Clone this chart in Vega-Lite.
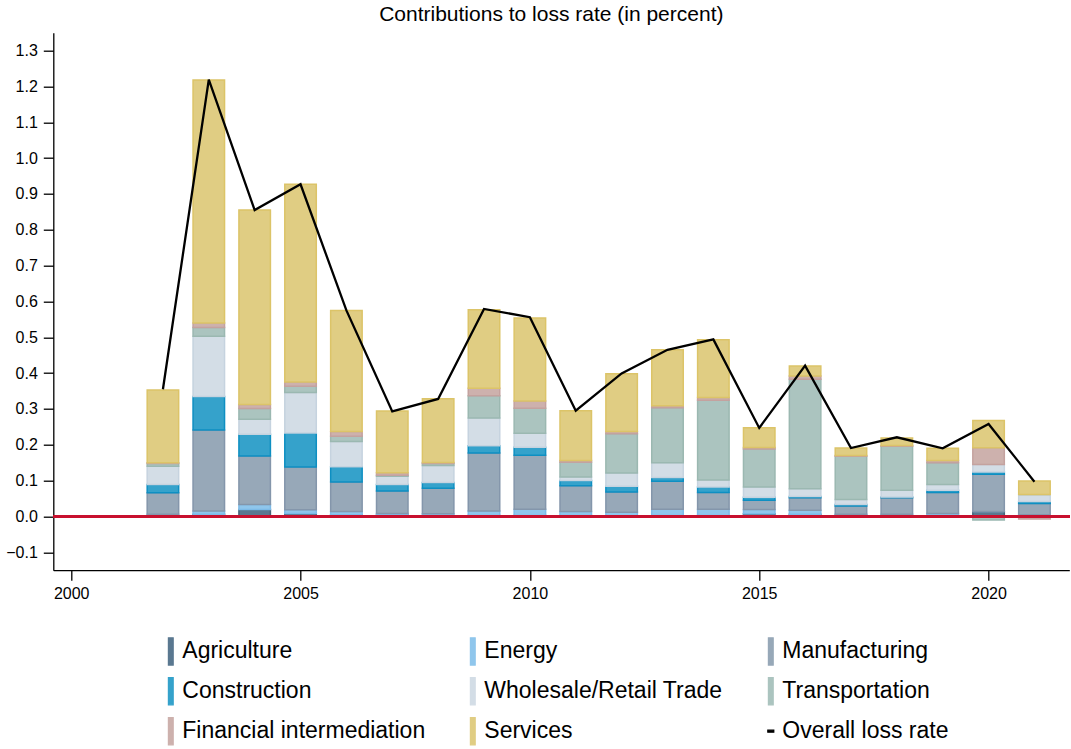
{
  "$schema": "https://vega.github.io/schema/vega-lite/v6.json",
  "autosize": {"type": "none"},
  "padding": {"left": 53.3, "top": 32.7, "right": 1.7, "bottom": 178.8},
  "width": 1016,
  "height": 537.5,
  "background": "white",
  "title": {"text": "Contributions to loss rate (in percent)", "fontSize": 21, "font": "Liberation Sans", "fontWeight": "normal", "anchor": "middle", "dx": -10, "offset": 8, "color": "black"},
  "config": {
    "view": {"stroke": null},
    "axis": {"domainColor": "black", "tickColor": "black", "labelColor": "black", "labelFont": "Liberation Sans", "labelFontSize": 16, "grid": false, "tickSize": 10, "domainWidth": 1.3, "tickWidth": 1.3, "title": null},
    "legend": {"labelFont": "Liberation Sans", "labelFontSize": 23, "labelColor": "black"}
  },
  "data": {"values": [
    {"year":2002,"sector":"Agriculture","value":0.002},{"year":2002,"sector":"Energy","value":0.004},{"year":2002,"sector":"Manufacturing","value":0.060},{"year":2002,"sector":"Construction","value":0.023},{"year":2002,"sector":"Wholesale/Retail Trade","value":0.051},{"year":2002,"sector":"Transportation","value":0.008},{"year":2002,"sector":"Financial intermediation","value":0.002},{"year":2002,"sector":"Services","value":0.203},
    {"year":2003,"sector":"Agriculture","value":0.006},{"year":2003,"sector":"Energy","value":0.009},{"year":2003,"sector":"Manufacturing","value":0.226},{"year":2003,"sector":"Construction","value":0.094},{"year":2003,"sector":"Wholesale/Retail Trade","value":0.168},{"year":2003,"sector":"Transportation","value":0.024},{"year":2003,"sector":"Financial intermediation","value":0.013},{"year":2003,"sector":"Services","value":0.678},
    {"year":2004,"sector":"Agriculture","value":0.0195},{"year":2004,"sector":"Energy","value":0.014},{"year":2004,"sector":"Manufacturing","value":0.135},{"year":2004,"sector":"Construction","value":0.061},{"year":2004,"sector":"Wholesale/Retail Trade","value":0.042},{"year":2004,"sector":"Transportation","value":0.030},{"year":2004,"sector":"Financial intermediation","value":0.011},{"year":2004,"sector":"Services","value":0.543},
    {"year":2005,"sector":"Agriculture","value":0.008},{"year":2005,"sector":"Energy","value":0.011},{"year":2005,"sector":"Manufacturing","value":0.119},{"year":2005,"sector":"Construction","value":0.095},{"year":2005,"sector":"Wholesale/Retail Trade","value":0.113},{"year":2005,"sector":"Transportation","value":0.017},{"year":2005,"sector":"Financial intermediation","value":0.012},{"year":2005,"sector":"Services","value":0.552},
    {"year":2006,"sector":"Agriculture","value":0.005},{"year":2006,"sector":"Energy","value":0.009},{"year":2006,"sector":"Manufacturing","value":0.082},{"year":2006,"sector":"Construction","value":0.043},{"year":2006,"sector":"Wholesale/Retail Trade","value":0.070},{"year":2006,"sector":"Transportation","value":0.015},{"year":2006,"sector":"Financial intermediation","value":0.013},{"year":2006,"sector":"Services","value":0.338},
    {"year":2007,"sector":"Agriculture","value":0.004},{"year":2007,"sector":"Energy","value":0.004},{"year":2007,"sector":"Manufacturing","value":0.063},{"year":2007,"sector":"Construction","value":0.018},{"year":2007,"sector":"Wholesale/Retail Trade","value":0.023},{"year":2007,"sector":"Transportation","value":0.003},{"year":2007,"sector":"Financial intermediation","value":0.007},{"year":2007,"sector":"Services","value":0.172},
    {"year":2008,"sector":"Agriculture","value":0.0},{"year":2008,"sector":"Energy","value":0.0075},{"year":2008,"sector":"Manufacturing","value":0.071},{"year":2008,"sector":"Construction","value":0.016},{"year":2008,"sector":"Wholesale/Retail Trade","value":0.048},{"year":2008,"sector":"Transportation","value":0.005},{"year":2008,"sector":"Financial intermediation","value":0.003},{"year":2008,"sector":"Services","value":0.178},
    {"year":2009,"sector":"Agriculture","value":0.003},{"year":2009,"sector":"Energy","value":0.012},{"year":2009,"sector":"Manufacturing","value":0.162},{"year":2009,"sector":"Construction","value":0.020},{"year":2009,"sector":"Wholesale/Retail Trade","value":0.078},{"year":2009,"sector":"Transportation","value":0.062},{"year":2009,"sector":"Financial intermediation","value":0.021},{"year":2009,"sector":"Services","value":0.219},
    {"year":2010,"sector":"Agriculture","value":0.003},{"year":2010,"sector":"Energy","value":0.017},{"year":2010,"sector":"Manufacturing","value":0.151},{"year":2010,"sector":"Construction","value":0.022},{"year":2010,"sector":"Wholesale/Retail Trade","value":0.039},{"year":2010,"sector":"Transportation","value":0.070},{"year":2010,"sector":"Financial intermediation","value":0.020},{"year":2010,"sector":"Services","value":0.232},
    {"year":2011,"sector":"Agriculture","value":0.003},{"year":2011,"sector":"Energy","value":0.011},{"year":2011,"sector":"Manufacturing","value":0.072},{"year":2011,"sector":"Construction","value":0.014},{"year":2011,"sector":"Wholesale/Retail Trade","value":0.010},{"year":2011,"sector":"Transportation","value":0.041},{"year":2011,"sector":"Financial intermediation","value":0.005},{"year":2011,"sector":"Services","value":0.139},
    {"year":2012,"sector":"Agriculture","value":0.0},{"year":2012,"sector":"Energy","value":0.012},{"year":2012,"sector":"Manufacturing","value":0.056},{"year":2012,"sector":"Construction","value":0.016},{"year":2012,"sector":"Wholesale/Retail Trade","value":0.037},{"year":2012,"sector":"Transportation","value":0.110},{"year":2012,"sector":"Financial intermediation","value":0.006},{"year":2012,"sector":"Services","value":0.161},
    {"year":2013,"sector":"Agriculture","value":0.003},{"year":2013,"sector":"Energy","value":0.017},{"year":2013,"sector":"Manufacturing","value":0.078},{"year":2013,"sector":"Construction","value":0.011},{"year":2013,"sector":"Wholesale/Retail Trade","value":0.041},{"year":2013,"sector":"Transportation","value":0.153},{"year":2013,"sector":"Financial intermediation","value":0.006},{"year":2013,"sector":"Services","value":0.156},
    {"year":2014,"sector":"Agriculture","value":0.003},{"year":2014,"sector":"Energy","value":0.017},{"year":2014,"sector":"Manufacturing","value":0.047},{"year":2014,"sector":"Construction","value":0.015},{"year":2014,"sector":"Wholesale/Retail Trade","value":0.020},{"year":2014,"sector":"Transportation","value":0.222},{"year":2014,"sector":"Financial intermediation","value":0.008},{"year":2014,"sector":"Services","value":0.161},
    {"year":2015,"sector":"Agriculture","value":0.0075},{"year":2015,"sector":"Energy","value":0.012},{"year":2015,"sector":"Manufacturing","value":0.026},{"year":2015,"sector":"Construction","value":0.008},{"year":2015,"sector":"Wholesale/Retail Trade","value":0.029},{"year":2015,"sector":"Transportation","value":0.106},{"year":2015,"sector":"Financial intermediation","value":0.004},{"year":2015,"sector":"Services","value":0.055},
    {"year":2016,"sector":"Agriculture","value":0.006},{"year":2016,"sector":"Energy","value":0.011},{"year":2016,"sector":"Manufacturing","value":0.035},{"year":2016,"sector":"Construction","value":0.004},{"year":2016,"sector":"Wholesale/Retail Trade","value":0.021},{"year":2016,"sector":"Transportation","value":0.306},{"year":2016,"sector":"Financial intermediation","value":0.009},{"year":2016,"sector":"Services","value":0.028},
    {"year":2017,"sector":"Agriculture","value":0.003},{"year":2017,"sector":"Energy","value":0.003},{"year":2017,"sector":"Manufacturing","value":0.023},{"year":2017,"sector":"Construction","value":0.004},{"year":2017,"sector":"Wholesale/Retail Trade","value":0.014},{"year":2017,"sector":"Transportation","value":0.121},{"year":2017,"sector":"Financial intermediation","value":0.002},{"year":2017,"sector":"Services","value":0.021},
    {"year":2018,"sector":"Agriculture","value":0.0},{"year":2018,"sector":"Energy","value":0.006},{"year":2018,"sector":"Manufacturing","value":0.046},{"year":2018,"sector":"Construction","value":0.002},{"year":2018,"sector":"Wholesale/Retail Trade","value":0.019},{"year":2018,"sector":"Transportation","value":0.123},{"year":2018,"sector":"Financial intermediation","value":0.002},{"year":2018,"sector":"Services","value":0.021},
    {"year":2019,"sector":"Agriculture","value":0.003},{"year":2019,"sector":"Energy","value":0.005},{"year":2019,"sector":"Manufacturing","value":0.059},{"year":2019,"sector":"Construction","value":0.006},{"year":2019,"sector":"Wholesale/Retail Trade","value":0.016},{"year":2019,"sector":"Transportation","value":0.061},{"year":2019,"sector":"Financial intermediation","value":0.006},{"year":2019,"sector":"Services","value":0.034},
    {"year":2020,"sector":"Agriculture","value":0.014},{"year":2020,"sector":"Energy","value":0.0},{"year":2020,"sector":"Manufacturing","value":0.104},{"year":2020,"sector":"Construction","value":0.006},{"year":2020,"sector":"Wholesale/Retail Trade","value":0.021},{"year":2020,"sector":"Transportation","value":-0.010},{"year":2020,"sector":"Financial intermediation","value":0.047},{"year":2020,"sector":"Services","value":0.076},
    {"year":2021,"sector":"Agriculture","value":0.0},{"year":2021,"sector":"Energy","value":0.005},{"year":2021,"sector":"Manufacturing","value":0.031},{"year":2021,"sector":"Construction","value":0.006},{"year":2021,"sector":"Wholesale/Retail Trade","value":0.019},{"year":2021,"sector":"Transportation","value":0.0},{"year":2021,"sector":"Financial intermediation","value":-0.007},{"year":2021,"sector":"Services","value":0.038},
    {"year":2002,"sector":"Overall loss rate","value":0.355},{"year":2003,"sector":"Overall loss rate","value":1.219},{"year":2004,"sector":"Overall loss rate","value":0.855},{"year":2005,"sector":"Overall loss rate","value":0.927},{"year":2006,"sector":"Overall loss rate","value":0.575},{"year":2007,"sector":"Overall loss rate","value":0.293},{"year":2008,"sector":"Overall loss rate","value":0.328},{"year":2009,"sector":"Overall loss rate","value":0.579},{"year":2010,"sector":"Overall loss rate","value":0.556},{"year":2011,"sector":"Overall loss rate","value":0.295},{"year":2012,"sector":"Overall loss rate","value":0.399},{"year":2013,"sector":"Overall loss rate","value":0.465},{"year":2014,"sector":"Overall loss rate","value":0.494},{"year":2015,"sector":"Overall loss rate","value":0.247},{"year":2016,"sector":"Overall loss rate","value":0.421},{"year":2017,"sector":"Overall loss rate","value":0.191},{"year":2018,"sector":"Overall loss rate","value":0.221},{"year":2019,"sector":"Overall loss rate","value":0.190},{"year":2020,"sector":"Overall loss rate","value":0.258},{"year":2021,"sector":"Overall loss rate","value":0.097}
  ]},
  "encoding": {
    "x": {"field": "year", "type": "quantitative", "scale": {"domain": [1999.61, 2021.76], "nice": false, "zero": false, "padding": 0}, "axis": {"values": [2000, 2005, 2010, 2015, 2020], "format": "d", "labelPadding": 5}},
    "y": {"field": "value", "type": "quantitative", "scale": {"domain": [-0.15, 1.35], "nice": false, "zero": false}, "axis": {"values": [-0.1, 0, 0.1, 0.2, 0.3, 0.4, 0.5, 0.6, 0.7, 0.8, 0.9, 1.0, 1.1, 1.2, 1.3], "format": ".1f", "labelPadding": 6}}
  },
  "layer": [
    {
      "transform": [
        {"filter": "datum.sector !== 'Overall loss rate'"},
        {"calculate": "indexof(['Agriculture','Energy','Manufacturing','Construction','Wholesale/Retail Trade','Transportation','Financial intermediation','Services'], datum.sector)", "as": "stackorder"}
      ],
      "mark": {"type": "bar", "size": 31.5, "strokeWidth": 1.5},
      "encoding": {
        "y": {"field": "value", "type": "quantitative", "stack": "zero"},
        "order": {"field": "stackorder", "type": "quantitative"},
        "color": {"field": "sector", "type": "nominal",
          "scale": {"domain": ["Agriculture","Energy","Manufacturing","Construction","Wholesale/Retail Trade","Transportation","Financial intermediation","Services","Overall loss rate"],
                    "range": ["#5a7890","#8fc6ec","#97a8b8","#35a2cb","#d3dde6","#abc4bf","#cdb1ad","#e0cd83","#000000"]},
          "legend": {"title": null, "orient": "none", "direction": "horizontal", "legendX": 106, "legendY": 607, "columns": 3, "columnPadding": 36, "rowPadding": 7, "labelOffset": 0, "labelLimit": 500, "symbolSize": 64, "labelFontSize": 23,
            "encode": {"symbols": {"update": {
              "shape": {"signal": "datum.value === 'Overall loss rate' ? 'M-0.75,-0.25H0.75V0.25H-0.75Z' : 'M-0.6,-3.4H0.6V3.4H-0.6Z'"},
              "fill": {"scale": "color", "field": "value"},
              "stroke": {"scale": "stroke", "field": "value"},
              "strokeWidth": {"value": 1.2},
              "opacity": {"value": 1},
              "fillOpacity": {"value": 1}
            }}}}
        },
        "stroke": {"field": "sector", "type": "nominal",
          "scale": {"domain": ["Agriculture","Energy","Manufacturing","Construction","Wholesale/Retail Trade","Transportation","Financial intermediation","Services","Overall loss rate"],
                    "range": ["#466479","#7dbbe8","#8496ab","#0e8fc2","#c6d3df","#9bb8b1","#c4a29f","#dcc468","#000000"]},
          "legend": null}
      }
    },
    {
      "mark": {"type": "rule", "color": "#c8102e", "strokeWidth": 2},
      "encoding": {"y": {"datum": 0}, "x": null}
    },
    {
      "transform": [{"filter": "datum.sector === 'Overall loss rate'"}],
      "mark": {"type": "line", "strokeWidth": 2.3},
      "encoding": {
        "color": {"field": "sector", "type": "nominal"}
      }
    }
  ]
}
